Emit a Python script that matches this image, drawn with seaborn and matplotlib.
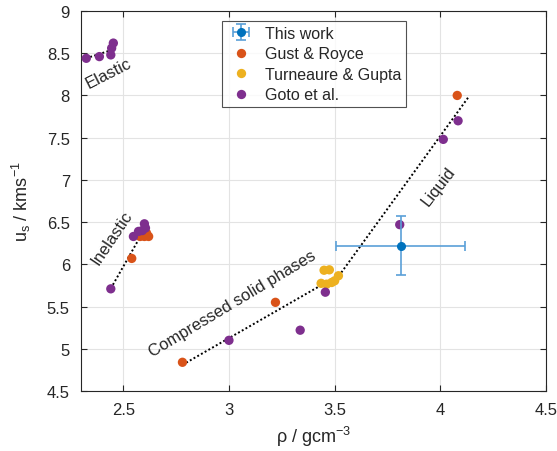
import numpy as np
import pandas as pd
import matplotlib
matplotlib.use("Agg")
import matplotlib.pyplot as plt
import seaborn as sns

# data
gust_rho = [2.54, 2.58, 2.60, 2.62, 2.61, 2.78, 3.22, 4.08]
gust_us = [6.07, 6.33, 6.33, 6.33, 6.37, 4.84, 5.55, 8.00]

turn_rho = [3.45, 3.475, 3.436, 3.462, 3.486, 3.50, 3.518]
turn_us = [5.93, 5.935, 5.775, 5.765, 5.785, 5.805, 5.865]

goto_rho = [2.325, 2.387, 2.441, 2.445, 2.453,
            2.441, 2.548, 2.572, 2.59, 2.60, 2.605,
            3.00, 3.337, 3.456, 3.808, 4.014, 4.084]
goto_us = [8.44, 8.46, 8.48, 8.56, 8.62,
           5.71, 6.33, 6.39, 6.40, 6.48, 6.43,
           5.10, 5.22, 5.67, 6.47, 7.48, 7.70]

this_rho, this_us = 3.812, 6.22
this_xerr, this_yerr = 0.305, 0.35

# dotted guide lines
elastic_x = [2.324, 2.46]
elastic_y = [8.44, 8.55]
inelastic_x = [2.441, 2.614]
inelastic_y = [5.714, 6.476]
solid_x = [2.78, 3.525, 4.136]
solid_y = [4.81, 5.88, 7.99]

xticks = [2.5, 3, 3.5, 4, 4.5]
yticks = [4.5, 5, 5.5, 6, 6.5, 7, 7.5, 8, 8.5, 9]

sns.set_theme(style="whitegrid")
plt.rcParams["font.family"] = ["Liberation Sans", "DejaVu Sans"]
plt.rcParams["mathtext.fontset"] = "custom"
plt.rcParams["mathtext.rm"] = "Liberation Sans"
plt.rcParams["mathtext.it"] = "Liberation Sans"

BLUE = "#0072BD"
ORANGE = "#D95319"
YELLOW = "#EDB120"
PURPLE = "#7E2F8E"

fig, ax = plt.subplots(figsize=(5.57, 4.52), dpi=100)
fig.subplots_adjust(left=81/557, right=546/557, top=1-12/452, bottom=1-392/452)

ls = dict(color="black", linestyle=(0, (1, 1.2)), linewidth=1.4, zorder=2)
ax.plot(elastic_x, elastic_y, **ls)
ax.plot(inelastic_x, inelastic_y, **ls)
ax.plot(solid_x, solid_y, **ls)

ax.errorbar(this_rho, this_us, xerr=this_xerr, yerr=this_yerr, fmt="o",
            color=BLUE, ecolor="#5AA0D8", markersize=5.5, capsize=3.5,
            elinewidth=1.2, capthick=1.2, label="This work", zorder=4)

df = pd.concat([
    pd.DataFrame({"rho": gust_rho, "us": gust_us, "src": "Gust & Royce"}),
    pd.DataFrame({"rho": turn_rho, "us": turn_us, "src": "Turneaure & Gupta"}),
    pd.DataFrame({"rho": goto_rho, "us": goto_us, "src": "Goto et al."}),
])
sns.scatterplot(data=df, x="rho", y="us", hue="src",
                palette={"Gust & Royce": ORANGE, "Turneaure & Gupta": YELLOW,
                         "Goto et al.": PURPLE},
                s=45, edgecolor="none", ax=ax, zorder=3)

ax.text(2.428, 8.265, "Elastic", rotation=27, ha="center", va="center", fontsize=12)
ax.text(2.445, 6.318, "Inelastic", rotation=56, ha="center", va="center", fontsize=12)
ax.text(3.014, 5.538, "Compressed solid phases", rotation=31, ha="center", va="center", fontsize=12)
ax.text(3.99, 6.93, "Liquid", rotation=52, ha="center", va="center", fontsize=12)

ax.set_xlim(2.3, 4.5)
ax.set_ylim(4.5, 9)
ax.set_xticks(xticks)
ax.set_xticklabels([f"{t:g}" for t in xticks])
ax.set_yticks(yticks)
ax.set_yticklabels([f"{t:g}" for t in yticks])
ax.tick_params(direction="in", length=4, width=0.8, color="#262626",
               labelsize=12, labelcolor="#262626", top=True, right=True,
               bottom=True, left=True, pad=8)
ax.grid(True, color="#E3E3E3", linewidth=0.8)
for sp in ax.spines.values():
    sp.set_color("#262626")
    sp.set_linewidth(0.8)

ax.set_xlabel(r"$\rho$ / gcm$^{\mathrm{-3}}$", fontsize=13, color="#262626", labelpad=5)
ax.set_ylabel(r"u$_{\mathrm{s}}$ / kms$^{\mathrm{-1}}$", fontsize=13, color="#262626", labelpad=10)

h, l = ax.get_legend_handles_labels()
idx = l.index("This work")
order = [idx] + [i for i in range(len(l)) if i != idx]
leg = ax.legend([h[i] for i in order], [l[i] for i in order],
                loc="upper left", bbox_to_anchor=(0.303, 0.974),
                frameon=True, fancybox=False, edgecolor="#262626",
                fontsize=11.5, borderpad=0.3, labelspacing=0.35,
                handletextpad=0.6, handlelength=1.8, borderaxespad=0)
leg.get_frame().set_linewidth(0.8)

plt.savefig("out.png", dpi=100)
plt.close()
